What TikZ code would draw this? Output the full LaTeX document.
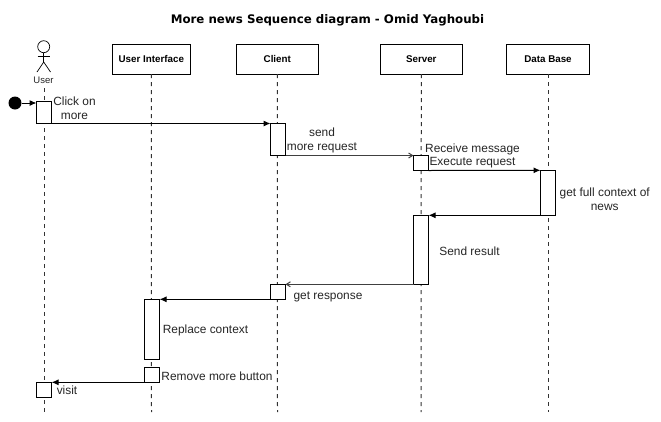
\documentclass[tikz,border=0pt]{standalone}
\usepackage{fontspec}
\usetikzlibrary{arrows.meta}
\setmainfont{Liberation Sans}
\newfontfamily\titlefont{DejaVu Sans}
\tikzset{
	headbox/.style={draw, line width=1pt, fill=white, minimum width=82pt, minimum height=29.5pt, inner sep=0pt, outer sep=0pt, font=\bfseries\fontsize{9.8}{11}\selectfont},
	actbox/.style={draw, line width=1pt, fill=white, minimum width=15pt, inner sep=0pt, outer sep=0pt, anchor=north},
	msg/.style={-{Latex[length=7pt,width=6pt]}, line width=1pt},
	reply/.style={-{Straight Barb[length=4pt,width=5pt]}, line width=1pt, black!75},
	lifeline/.style={line width=1pt, dash pattern=on 4pt off 4pt, black!80},
	lbl/.style={align=center, inner sep=0pt, font=\fontsize{11.9}{13.5}\selectfont, text=black!85}
}
\begin{document}
\begin{tikzpicture}[x=1pt, y=-1pt]
	
	% 1. Canvas
	\useasboundingbox (0,0) rectangle (661,421);
	\fill[white] (0,0) rectangle (661,421);
	\node[font=\titlefont\bfseries\fontsize{11.8}{14}\selectfont] (title) at (327.5,20) {More news Sequence diagram - Omid Yaghoubi};
	
	% 2. Lower ends of the lifelines
	\coordinate (userend) at (44,412);
	\coordinate (uiend) at (151.5,412);
	\coordinate (clientend) at (277.5,412);
	\coordinate (serverend) at (421,412);
	\coordinate (dbend) at (548,412);
	
	% 3. Actor
	\draw[line width=0.7pt] (43.7,46.7) circle (6);
	\draw[line width=0.7pt] (43.7,52.7) -- (43.7,62);
	\draw[line width=0.7pt] (37.5,56.7) -- (50,56.7);
	\draw[line width=0.7pt] (37,72) -- (43.7,62) -- (50.5,72);
	\node[inner sep=0pt, font=\fontsize{9.5}{11}\selectfont, text=black!85] (user) at (43.5,80.7) {User};
	
	% 4. Heads
	\node[headbox, minimum width=78.5pt] (ui) at (151.3,59.3) {User Interface};
	\node[headbox] (client) at (277.3,59.3) {Client};
	\node[headbox] (server) at (421.3,59.3) {Server};
	\node[headbox, minimum width=83.5pt] (db) at (548,59.3) {Data Base};
	
	% 5. Lifelines
	\draw[lifeline] (44,88) -- (userend);
	\draw[lifeline] (ui.south) -- (uiend);
	\draw[lifeline] (client.south) -- (clientend);
	\draw[lifeline] (server.south) -- (serverend);
	\draw[lifeline] (db.south) -- (dbend);
	
	% 6. Activation boxes
	\node[actbox, minimum height=22.5pt] (userA) at (44,101) {};
	\node[actbox, minimum height=32pt] (clientA) at (278,123.5) {};
	\node[actbox, minimum height=15pt] (serverA) at (421,155.5) {};
	\node[actbox, minimum height=45pt] (dbA) at (548,170.3) {};
	\node[actbox, minimum height=69pt] (serverB) at (421,215.3) {};
	\node[actbox, minimum height=15pt] (clientB) at (278,284.3) {};
	\node[actbox, minimum height=60pt] (uiA) at (152,299.3) {};
	\node[actbox, minimum height=15pt] (uiB) at (152,367.3) {};
	\node[actbox, minimum height=15pt] (userB) at (44,382.3) {};
	
	% 7. Start point
	\node[circle, fill=black, minimum size=13pt, inner sep=0pt, outer sep=0pt] (start) at (15,103) {};
	\draw[msg] (start) -- (start -| userA.west);
	
	% 8. Messages
	\draw[msg] (userA.south east) -- (clientA.north west);
	\draw[reply] (clientA.south east) -- (serverA.north west);
	\draw[msg] (serverA.south east) -- (dbA.north west);
	\draw[msg] (dbA.south west) -- (serverB.north east);
	\draw[reply] (serverB.south west) -- (clientB.north east);
	\draw[msg] (clientB.south west) -- (uiA.north east);
	\draw[msg] (uiB.south west) -- (userB.north east);
	
	% 9. Labels
	\node[lbl] (clickT) at (74.5,108) {Click on\\more};
	\node[lbl] (sendT) at (322,140.5) {send\\more request};
	\node[lbl] (receiveT) at (472.5,156) {Receive message\\Execute request};
	\node[lbl] (contextT) at (604.7,199) {get full context of\\news};
	\node[lbl] (resultT) at (469.5,251.5) {Send result};
	\node[lbl] (responseT) at (328,296.5) {get response};
	\node[lbl] (replaceT) at (205.5,330.5) {Replace context};
	\node[lbl] (removeT) at (217,376.5) {Remove more button};
	\node[lbl] (visitT) at (67,390.5) {visit};
	
\end{tikzpicture}
\end{document}
